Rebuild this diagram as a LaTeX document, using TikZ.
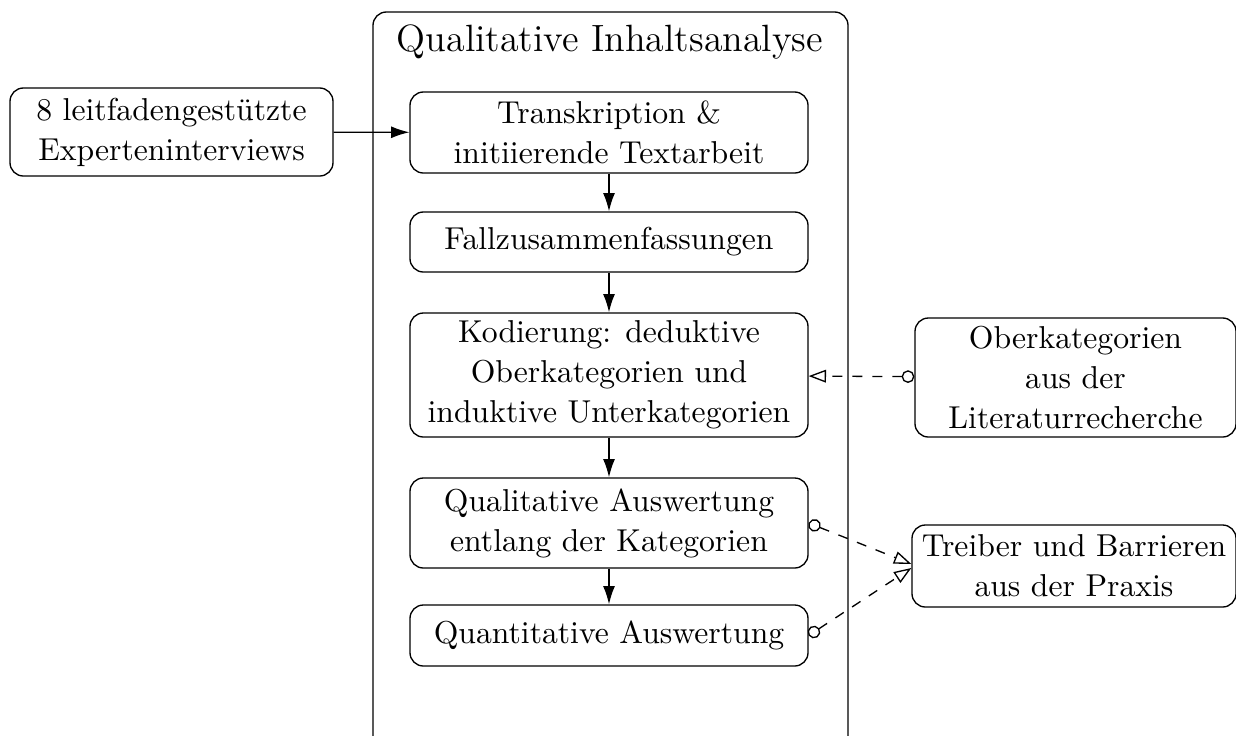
\documentclass[tikz,border=0pt]{standalone}
\usepackage{tikz}
\usetikzlibrary{arrows.meta,positioning}

\tikzset{
  stepbox/.style={draw, rounded corners=4pt, align=center, inner sep=2pt},
  flow/.style={-{Latex[length=5.5pt,width=3.6pt]}},
  feed/.style={dashed, {Circle[open,length=3.8pt]}-{Triangle[open,length=5.2pt,width=3.8pt]}}
}

\begin{document}
\begin{tikzpicture}[x=0.3pt,y=-0.3pt, font=\fontsize{9.5pt}{12pt}\selectfont]

      \useasboundingbox (0,0) rectangle (1236,735);

      % frame
      \draw[rounded corners=4pt] (373,12) rectangle (848,780);
      \node (title) at (610,42) {\fontsize{11.4pt}{14pt}\selectfont Qualitative Inhaltsanalyse};

      % steps
      \node[stepbox, minimum width=119.4pt, minimum height=24.3pt] (transkr) at (609,132.5)
        {Transkription \&\\initiierende Textarbeit};
      \node[stepbox, minimum width=119.4pt, minimum height=18pt] (fall) at (609,242)
        {Fallzusammenfassungen};
      \node[stepbox, minimum width=119.4pt, minimum height=37.2pt] (kodier) at (609,375)
        {Kodierung: deduktive\\Oberkategorien und\\induktive Unterkategorien};
      \node[stepbox, minimum width=119.4pt, minimum height=27pt] (quali) at (609,523)
        {Qualitative Auswertung\\entlang der Kategorien};
      \node[stepbox, minimum width=119.4pt, minimum height=18.3pt] (quanti) at (609,635.5)
        {Quantitative Auswertung};

      % inputs
      \node[stepbox, minimum width=96.9pt, minimum height=26.4pt] (interv) at (171.5,132)
        {8 leitfadengest\"utzte\\Experteninterviews};
      \node[stepbox, minimum width=96.3pt, minimum height=35.7pt] (lit) at (1075.5,377.5)
        {Oberkategorien\\aus der\\Literaturrecherche};
      \node[stepbox, minimum width=97.2pt, minimum height=24.6pt] (praxis) at (1074,566)
        {Treiber und Barrieren\\aus der Praxis};

      \draw[flow] (interv) to (transkr);
      \draw[flow] (transkr) to (fall);
      \draw[flow] (fall) to (kodier);
      \draw[flow] (kodier) to (quali);
      \draw[flow] (quali) to (quanti);

      \draw[feed] (lit) to (kodier);
      \draw[feed] (quali.east) to ([yshift=0.6pt]praxis.west);
      \draw[feed] (quanti.east) to ([yshift=-0.6pt]praxis.west);

\end{tikzpicture}
\end{document}
